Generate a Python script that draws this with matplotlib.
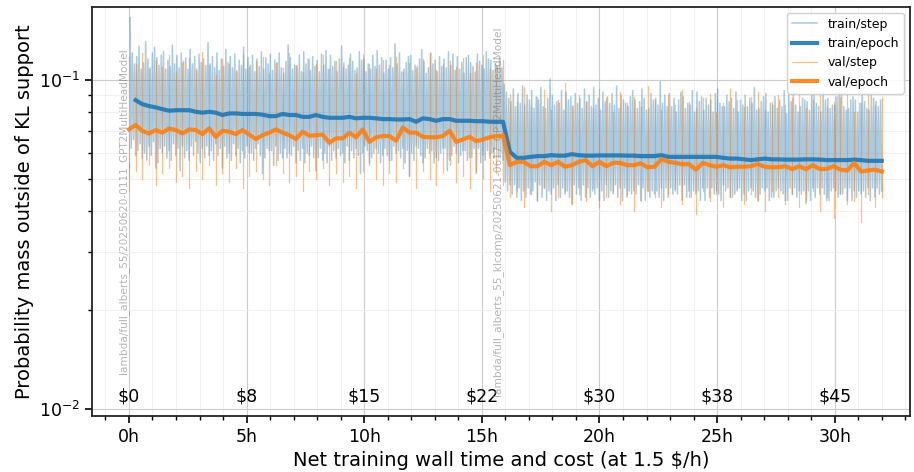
import numpy as np
import matplotlib
matplotlib.use("Agg")
import matplotlib.pyplot as plt
import matplotlib.transforms as mtransforms
from matplotlib.ticker import MultipleLocator, FuncFormatter, NullFormatter

# ---------------------------------------------------------------- runs
run_names = [
    "lambda/full_alberts_55/20250620-0111_GPT2MultiHeadModel",
    "lambda/full_alberts_55_klcomp/20250621-0617_GPT2MultiHeadModel",
]
run_start_h = [0.0, 15.9]
run_end_h = [15.9, 32.0]
cost_per_hour = 1.5

# ---------------------------------------------------------------- per-epoch means
train_epoch_run1 = [
    .0869, .0845, .0834, .0826, .0816, .0807, .0810, .0810, .0810, .0801,
    .0796, .0801, .0796, .0783, .0792, .0792, .0789, .0789, .0789, .0785,
    .0777, .0777, .0789, .0783, .0783, .0773, .0773, .0783, .0773, .0768,
    .0768, .0768, .0773, .0765, .0768, .0768, .0765, .0761, .0761, .0759,
    .0759, .0761, .0747, .0765, .0761, .0752, .0761, .0761, .0752, .0752,
    .0752, .0750, .0750, .0747, .0747, .0747,
]
train_epoch_run2 = [
    .0605, .0580, .0580, .0584, .0587, .0587, .0591, .0589, .0589, .0595,
    .0591, .0589, .0589, .0590, .0590, .0590, .0590, .0589, .0589, .0587,
    .0587, .0587, .0591, .0584, .0584, .0584, .0584, .0584, .0584, .0584,
    .0584, .0580, .0577, .0577, .0574, .0571, .0574, .0577, .0574, .0574,
    .0573, .0573, .0573, .0574, .0574, .0573, .0571, .0571, .0571, .0571,
    .0573, .0571, .0568, .0568, .0568,
]
# validation runs once before training and after every epoch
val_epoch_run1 = [
    .0708, .0730, .0701, .0688, .0705, .0692, .0713, .0705, .0688, .0708,
    .0705, .0685, .0713, .0672, .0701, .0697, .0685, .0705, .0683, .0662,
    .0680, .0692, .0708, .0692, .0680, .0662, .0697, .0677, .0680, .0683,
    .0645, .0665, .0665, .0692, .0670, .0708, .0649, .0670, .0676, .0676,
    .0654, .0718, .0692, .0692, .0672, .0670, .0670, .0676, .0701, .0649,
    .0660, .0672, .0652, .0660, .0670, .0676, .0676,
]
val_epoch_run2 = [
    .0680,
    .0551, .0564, .0564, .0547, .0547, .0564, .0551, .0564, .0545, .0551,
    .0564, .0571, .0547, .0564, .0547, .0560, .0560, .0551, .0551, .0558,
    .0543, .0545, .0575, .0564, .0560, .0555, .0555, .0534, .0560, .0551,
    .0545, .0551, .0543, .0545, .0545, .0547, .0555, .0545, .0543, .0543,
    .0547, .0536, .0547, .0536, .0551, .0536, .0537, .0547, .0534, .0531,
    .0560, .0527, .0531, .0534, .0527,
]

# ---------------------------------------------------------------- per-step values
train_step_run1 = [
    (.155, .062, .121, .066, .112, .059), (.118, .061, .127, .064, .108, .058),
    (.113, .060, .131, .057, .116, .063), (.109, .059, .121, .065, .126, .054),
    (.117, .056, .111, .062, .119, .060), (.122, .063, .108, .058, .115, .061),
    (.110, .057, .128, .064, .112, .059), (.119, .062, .109, .053, .121, .063),
    (.114, .058, .117, .061, .108, .057), (.124, .063, .112, .059, .118, .065),
    (.107, .060, .120, .056, .113, .062), (.116, .058, .111, .063, .130, .059),
    (.112, .061, .118, .057, .109, .064), (.121, .059, .107, .062, .116, .054),
    (.110, .063, .124, .058, .113, .060), (.118, .057, .109, .064, .120, .059),
    (.106, .062, .115, .056, .111, .061), (.126, .058, .108, .063, .117, .060),
    (.111, .060, .119, .057, .106, .062), (.116, .064, .110, .059, .122, .052),
    (.108, .058, .117, .062, .112, .061), (.120, .061, .107, .055, .115, .063),
    (.113, .057, .121, .060, .109, .058), (.105, .062, .114, .058, .128, .060),
    (.117, .059, .108, .063, .111, .056), (.110, .061, .119, .057, .106, .062),
    (.122, .056, .112, .060, .116, .059), (.107, .063, .118, .058, .110, .053),
    (.115, .058, .106, .062, .120, .057), (.111, .060, .123, .056, .108, .063),
    (.119, .057, .110, .061, .114, .058), (.106, .062, .116, .059, .127, .060),
    (.113, .056, .108, .063, .111, .057), (.120, .061, .114, .058, .107, .062),
    (.109, .059, .122, .052, .115, .060), (.116, .063, .106, .061, .112, .056),
    (.108, .058, .119, .060, .110, .062), (.123, .060, .111, .056, .117, .059),
    (.105, .062, .115, .059, .108, .057), (.117, .057, .109, .063, .129, .060),
    (.112, .061, .121, .058, .106, .062), (.108, .056, .113, .061, .118, .051),
    (.119, .060, .107, .057, .111, .063), (.110, .062, .116, .059, .124, .056),
    (.114, .058, .105, .062, .109, .060), (.121, .061, .112, .056, .115, .058),
    (.106, .057, .118, .060, .110, .062), (.116, .062, .109, .053, .122, .057),
    (.111, .059, .120, .063, .107, .060), (.118, .056, .108, .059, .113, .061),
    (.105, .061, .117, .057, .119, .058), (.113, .058, .110, .062, .106, .052),
    (.120, .062, .114, .056, .111, .059), (.108, .057, .122, .061, .116, .058),
    (.115, .060, .107, .058, .112, .062), (.110, .058, .118, .060, .109, .057),
]
train_step_run2 = [
    (.097, .049, .092, .046, .088, .048), (.086, .045, .094, .048, .083, .044),
    (.091, .047, .085, .043, .096, .046), (.084, .044, .090, .047, .087, .045),
    (.093, .046, .082, .049, .089, .043), (.087, .048, .095, .044, .083, .047),
    (.082, .043, .088, .046, .101, .045), (.090, .047, .084, .043, .086, .048),
    (.085, .044, .093, .047, .081, .045), (.092, .046, .087, .044, .089, .042),
    (.083, .048, .091, .045, .085, .047), (.088, .043, .082, .048, .094, .044),
    (.086, .047, .090, .044, .083, .046), (.095, .045, .084, .047, .088, .043),
    (.081, .046, .092, .043, .086, .048), (.089, .044, .085, .046, .091, .045),
    (.084, .048, .096, .044, .082, .047), (.090, .043, .087, .047, .085, .044),
    (.083, .046, .089, .045, .093, .046), (.087, .045, .082, .048, .086, .043),
    (.094, .047, .088, .043, .081, .046), (.082, .044, .091, .046, .087, .045),
    (.088, .046, .084, .044, .099, .047), (.085, .043, .090, .047, .083, .044),
    (.091, .047, .083, .045, .088, .046), (.080, .045, .087, .048, .092, .043),
    (.089, .048, .082, .044, .085, .046), (.084, .044, .093, .046, .080, .045),
    (.092, .046, .086, .043, .089, .047), (.081, .043, .088, .047, .084, .044),
    (.087, .047, .080, .045, .091, .046), (.094, .045, .085, .043, .083, .048),
    (.083, .046, .090, .047, .086, .044), (.088, .044, .082, .045, .092, .046),
    (.080, .047, .087, .043, .084, .045), (.090, .043, .083, .046, .088, .047),
    (.085, .046, .095, .044, .081, .043), (.082, .045, .086, .047, .089, .046),
    (.091, .047, .080, .043, .085, .044), (.084, .044, .089, .046, .082, .047),
    (.087, .046, .083, .045, .093, .043), (.079, .043, .090, .047, .086, .045),
    (.092, .047, .084, .044, .080, .046), (.083, .045, .088, .046, .087, .042),
    (.086, .046, .081, .043, .091, .047), (.090, .044, .085, .047, .083, .045),
    (.080, .047, .092, .045, .087, .043), (.088, .043, .082, .046, .084, .047),
    (.084, .046, .089, .044, .096, .045), (.091, .045, .083, .047, .081, .043),
    (.082, .047, .087, .043, .089, .046), (.087, .044, .080, .046, .085, .045),
    (.093, .046, .086, .044, .082, .047), (.081, .043, .090, .047, .088, .044),
    (.086, .047, .083, .045, .087, .046),
]
# highest / lowest validation batch at each validation pass
val_step_high_run1 = [
    .118, .112, .121, .108, .115, .110, .119, .106, .113, .117,
    .109, .122, .111, .104, .116, .112, .107, .120, .110, .114,
    .118, .105, .113, .109, .121, .111, .106, .116, .112, .119,
    .108, .114, .110, .117, .105, .120, .112, .108, .115, .111,
    .118, .106, .113, .109, .116, .121, .107, .112, .114, .110,
    .117, .105, .113, .119, .108, .111, .115,
]
val_step_low_run1 = [
    .046, .053, .050, .055, .048, .052, .054, .049, .051, .047,
    .053, .050, .055, .048, .052, .049, .054, .047, .051, .053,
    .050, .048, .055, .052, .049, .051, .046, .053, .050, .054,
    .048, .052, .049, .051, .047, .053, .055, .050, .048, .052,
    .049, .054, .051, .047, .053, .050, .048, .052, .055, .049,
    .051, .047, .053, .050, .046, .052, .049,
]
val_step_high_run2 = [
    .110, .091, .086, .095, .083, .089, .093, .081, .087, .098,
    .084, .090, .086, .082, .094, .088, .080, .092, .085, .089,
    .083, .096, .087, .081, .090, .084, .093, .086, .082, .088,
    .091, .080, .085, .094, .087, .083, .089, .092, .081, .086,
    .090, .084, .088, .095, .082, .087, .091, .083, .086, .089,
    .093, .080, .085, .090, .084, .088,
]
val_step_low_run2 = [
    .048, .044, .046, .041, .045, .043, .047, .040, .044, .046,
    .042, .045, .043, .047, .041, .044, .046, .042, .045, .040,
    .043, .046, .044, .041, .045, .047, .042, .044, .039, .046,
    .043, .045, .041, .044, .047, .042, .045, .043, .040, .046,
    .044, .042, .045, .041, .043, .046, .040, .044, .038, .045,
    .042, .043, .037, .045, .041, .044,
]

# ---------------------------------------------------------------- time axes
runs = [
    (train_epoch_run1, val_epoch_run1, train_step_run1, val_step_high_run1, val_step_low_run1),
    (train_epoch_run2, val_epoch_run2, train_step_run2, val_step_high_run2, val_step_low_run2),
]
tr_t, tr_v, va_t, va_v, ts_t, ts_v, vs_t, vs_v = ([] for _ in range(8))
for (t0, t1), (tr, va, ts, vhi, vlo) in zip(zip(run_start_h, run_end_h), runs):
    n_ep = len(tr)
    ep_len = (t1 - t0) / n_ep
    tr_t += list(t0 + ep_len * np.arange(1, n_ep + 1))
    tr_v += tr
    vt = t0 + ep_len * np.arange(len(va))
    va_t += list(vt)
    va_v += va
    flat = [v for ep in ts for v in ep]
    ts_t += list(np.linspace(t0, t1, len(flat) + 1)[1:])
    ts_v += flat
    for t, hi, lo in zip(vt, vhi, vlo):
        vs_t += [t, t, np.nan]
        vs_v += [hi, lo, np.nan]

# ---------------------------------------------------------------- figure
blue, orange = "#1f77b4", "#ff7f0e"
fig = plt.figure(figsize=(9.14, 4.72), dpi=100)
ax = fig.add_axes([0.1007, 0.1186, 0.8949, 0.8676])

h_ts, = ax.plot(ts_t, ts_v, color=blue, lw=1.1, alpha=0.38, zorder=2, label="train/step")
h_vs, = ax.plot(vs_t, vs_v, color=orange, lw=0.9, alpha=0.5, zorder=3, label="val/step")
h_tr, = ax.plot(tr_t, tr_v, color=blue, lw=3, alpha=0.9, zorder=4, label="train/epoch")
h_va, = ax.plot(va_t, va_v, color=orange, lw=3, alpha=0.9, zorder=5, label="val/epoch")

ax.set_yscale("log")
ax.set_ylim(0.0095, 0.1675)
ax.set_xlim(-1.57, 33.2)
ax.xaxis.set_major_locator(MultipleLocator(5))
ax.xaxis.set_minor_locator(MultipleLocator(1))
ax.xaxis.set_major_formatter(FuncFormatter(lambda x, _: f"{x:g}h"))
ax.yaxis.set_minor_formatter(NullFormatter())

ax.set_axisbelow(True)
ax.grid(which="major", color="#cccccc", lw=0.8)
ax.grid(which="minor", color="#eeeeee", lw=0.6)
ax.tick_params(which="major", labelsize=12.5, length=5, width=1.2)
ax.tick_params(which="minor", length=3, width=1.0)
for sp in ax.spines.values():
    sp.set_linewidth(1.3)
    sp.set_color("#222222")

ax.set_xlabel("Net training wall time and cost (at 1.5 $/h)", fontsize=14)
ax.set_ylabel("Probability mass outside of KL support", fontsize=14)

trans = mtransforms.blended_transform_factory(ax.transData, ax.transAxes)
for h in range(0, 31, 5):
    ax.text(h, 0.025, f"${round(h * cost_per_hour)}", transform=trans,
            ha="center", va="bottom", fontsize=12.5)
for name, t0 in zip(run_names, run_start_h):
    ax.text(t0, 0.5, name, transform=trans, rotation=90, ha="right", va="center",
            fontsize=7.6, color="gray", alpha=0.6)

ax.legend(handles=[h_ts, h_tr, h_vs, h_va], loc="upper right", fontsize=9,
          framealpha=0.9)

fig.savefig("out.png", dpi=100)
